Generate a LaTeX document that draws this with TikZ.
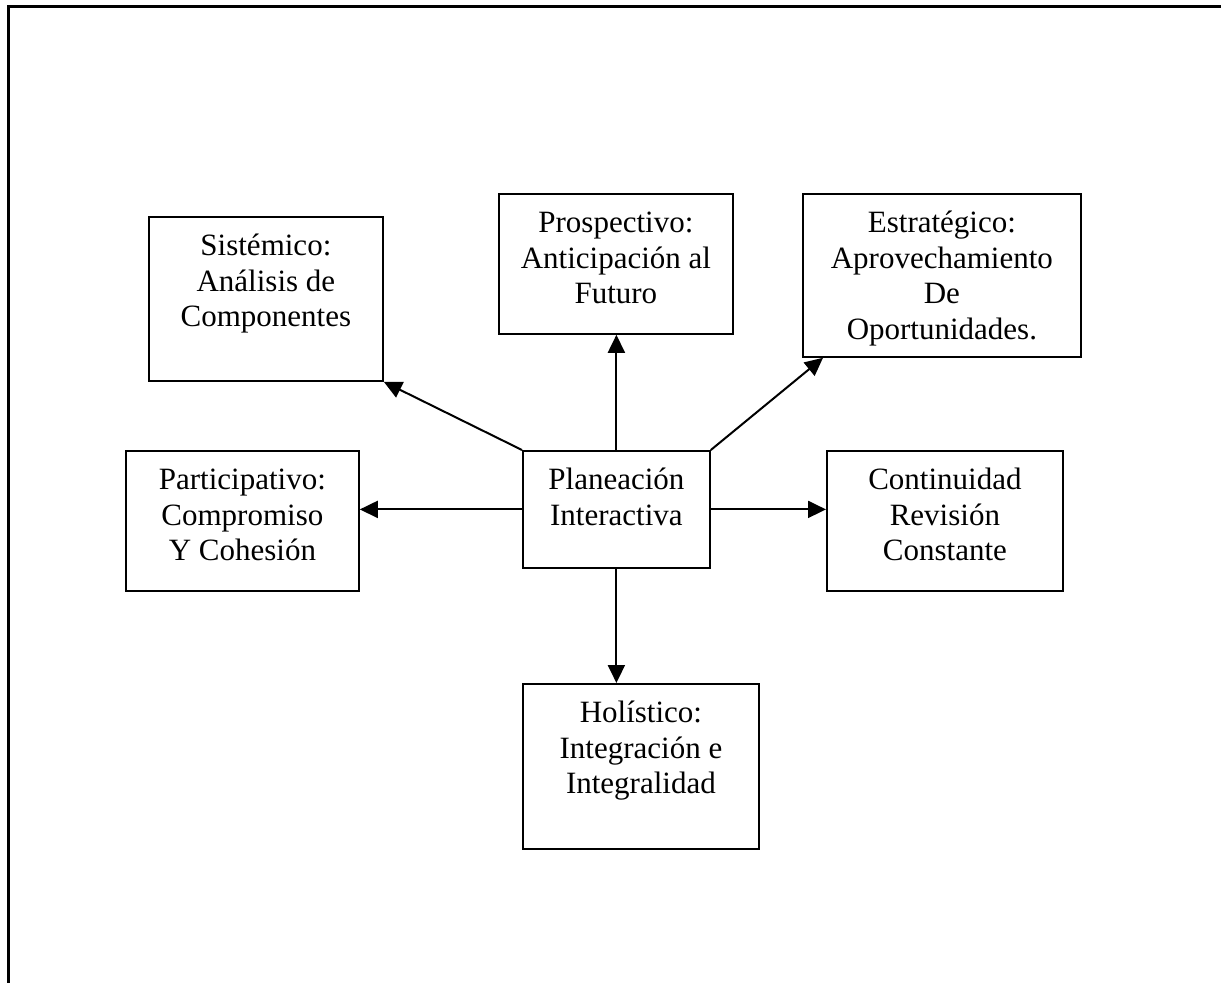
\documentclass[tikz,border=0pt]{standalone}
\usepackage{fontspec}
\setmainfont{Liberation Serif}
\usetikzlibrary{arrows.meta,calc}
% centred lines whose first baseline is the box reference point
\newcommand\boxlines[1]{\begin{tabular}[t]{@{}c@{}}#1\end{tabular}}
\tikzset{
  box/.style={draw, line width=1.8pt, anchor=north west, inner sep=0pt,
    text height=39pt, font=\fontsize{31}{35.5}\selectfont},
  link/.style={line width=2pt, -{Triangle[length=18pt,width=17pt]}},
  frame/.style={line width=3pt}
}
\begin{document}
\begin{tikzpicture}[x=1pt,y=-1pt]
  \useasboundingbox (0,0) rectangle (1221,983);
  % open outer frame
  \coordinate (ftr) at (1221,6.5);
  \coordinate (ftl) at (8.5,6.5);
  \coordinate (fbl) at (8.5,983);
  \draw[frame] (ftr) -- (ftl) -- (fbl);

  % boxes
  \node[box, minimum width=187pt, text depth=78pt] (plan) at (522,450)
    {\boxlines{Planeación\\Interactiva}};
  \node[box, minimum width=234pt, text depth=125pt] (sist) at (148,216)
    {\boxlines{Sistémico:\\Análisis de\\Componentes}};
  \node[box, minimum width=234pt, text depth=101pt] (pros) at (498,193)
    {\boxlines{Prospectivo:\\Anticipación al\\Futuro}};
  \node[box, minimum width=278pt, text depth=124pt] (estr) at (802,193)
    {\boxlines{Estratégico:\\Aprovechamiento\\De\\Oportunidades.}};
  \node[box, minimum width=233pt, text depth=101pt] (part) at (125,450)
    {\boxlines{Participativo:\\Compromiso\\Y Cohesión}};
  \node[box, minimum width=236pt, text depth=101pt] (cont) at (826,450)
    {\boxlines{Continuidad\\Revisión\\Constante}};
  \node[box, minimum width=236pt, text depth=126pt] (holi) at (522,683)
    {\boxlines{Holístico:\\Integración e\\Integralidad}};

  % connectors
  \coordinate (estrin) at ($(estr.south west)+(21,0)$);
  \draw[link] (plan.north west) -- (sist.south east);
  \draw[link] (plan.north) -- (plan.north |- pros.south);
  \draw[link] (plan.north east) -- (estrin);
  \draw[link] (plan.west) -- (plan.west -| part.east);
  \draw[link] (plan.east) -- (plan.east -| cont.west);
  \draw[link] (plan.south) -- (plan.south |- holi.north);
\end{tikzpicture}
\end{document}
